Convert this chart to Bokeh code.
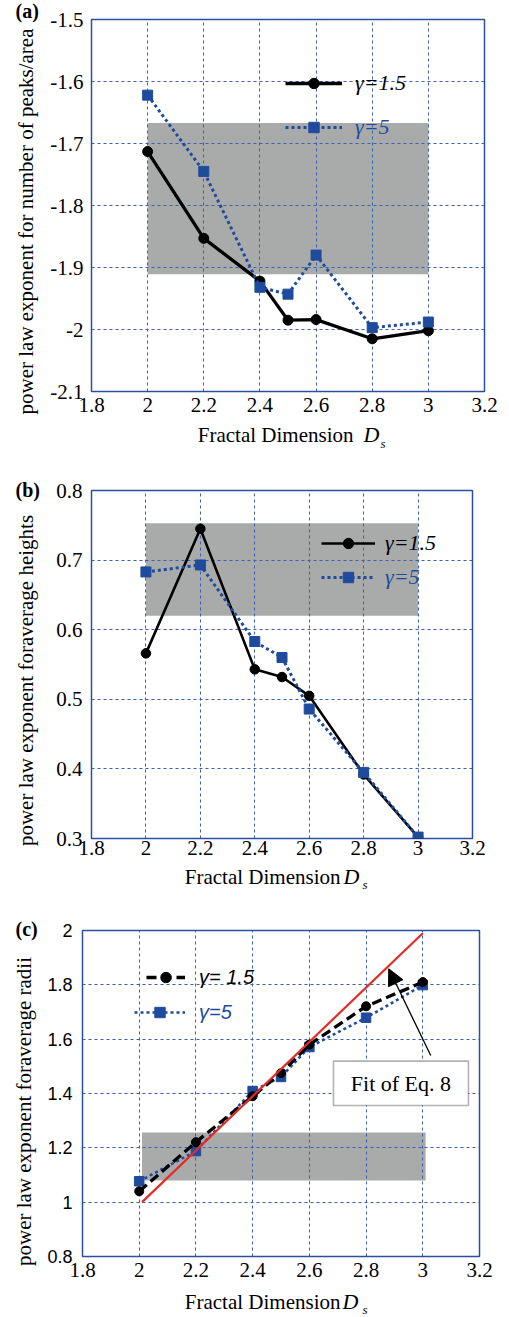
import math
from bokeh.plotting import figure
from bokeh.layouts import column, row
from bokeh.models import (CustomJSTickFormatter, Label, Legend, LegendItem,
                          BoxAnnotation, Arrow, NormalHead, Range1d)
from bokeh.embed import file_html
from bokeh.resources import INLINE

# ---------------- data ----------------
ds = [2.0, 2.2, 2.4, 2.5, 2.6, 2.8, 3.0]

a_g15 = [-1.713, -1.853, -1.922, -1.985, -1.984, -2.015, -2.002]
a_g5 = [-1.622, -1.745, -1.932, -1.943, -1.880, -1.997, -1.988]

b_g15 = [0.566, 0.745, 0.543, 0.532, 0.505, 0.392, 0.302]
b_g5 = [0.683, 0.693, 0.583, 0.560, 0.486, 0.395, 0.302]

c_g15 = [1.040, 1.221, 1.390, 1.475, 1.580, 1.721, 1.810]
c_g5 = [1.077, 1.188, 1.409, 1.461, 1.571, 1.679, 1.799]

fit_x = [2.01, 3.0]
fit_y = [1.0, 1.99]

band_a_x = [2.0, 3.0]
band_a_y = [-1.911, -1.667]
band_b_x = [2.0, 3.0]
band_b_y = [0.620, 0.753]
band_c_x = [2.01, 3.01]
band_c_y = [1.080, 1.256]

x_ticks = [1.8, 2.0, 2.2, 2.4, 2.6, 2.8, 3.0, 3.2]
a_yticks = [-2.1, -2.0, -1.9, -1.8, -1.7, -1.6, -1.5]
b_yticks = [0.3, 0.4, 0.5, 0.6, 0.7, 0.8]
c_yticks = [0.8, 1.0, 1.2, 1.4, 1.6, 1.8, 2.0]

label_g15_serif = "γ=1.5"
label_g15_sans = "γ= 1.5"
label_g5 = "γ=5"

ylab_a = "power law exponent for number of peaks/area"
ylab_b = "power law exponent foraverage heights"
ylab_c = "power law exponent foraverage radii"
xlab = "Fractal Dimension"

# ---------------- style ----------------
SERIF = "Liberation Serif"
SANS = "Liberation Sans"
BLUE = "#1f4b9d"
GRID = "#3a5fae"
FRAME = "#2b4e9e"
BAND = "#a9abaa"
RED = "#e52b25"
PAGE_W = 509
SIDE_W = 44
MAIN_W = PAGE_W - SIDE_W

fmt = CustomJSTickFormatter(code="return (Math.round(tick*10)/10).toString();")


def no_align(f):
    try:
        f.frame_align = False
    except Exception:
        pass


def main_fig(height, left, right, top, bottom, yr, yticks, ytick_font, ytick_size,
             ystand, xstand):
    p = figure(width=MAIN_W, height=height, x_range=Range1d(1.8, 3.2), y_range=Range1d(*yr),
               title=None, toolbar_location=None, output_backend="svg",
               min_border_left=left, min_border_right=right,
               min_border_top=top, min_border_bottom=bottom)
    no_align(p)
    p.background_fill_color = "white"
    p.border_fill_color = "white"
    p.outline_line_color = FRAME
    p.outline_line_width = 1.5
    p.xaxis.ticker = x_ticks
    p.yaxis.ticker = yticks
    p.xaxis.formatter = fmt
    p.yaxis.formatter = fmt
    for ax in (p.xaxis, p.yaxis):
        ax.axis_line_color = None
        ax.major_tick_line_color = None
        ax.minor_tick_line_color = None
        ax.major_tick_in = 0
        ax.major_tick_out = 0
        ax.major_label_text_color = "black"
    p.xaxis.major_label_text_font = SERIF
    p.xaxis.major_label_text_font_size = "21px"
    p.xaxis.major_label_standoff = xstand
    p.yaxis.major_label_text_font = ytick_font
    p.yaxis.major_label_text_font_size = ytick_size
    p.yaxis.major_label_standoff = ystand
    p.grid.grid_line_color = GRID
    p.grid.grid_line_dash = "3 3"
    p.grid.grid_line_width = 1
    return p


def text_fig(w, h):
    f = figure(width=w, height=h, x_range=Range1d(0, w), y_range=Range1d(h, 0),
               title=None, toolbar_location=None, output_backend="svg",
               x_axis_location=None, y_axis_location=None, min_border=0)
    no_align(f)
    f.outline_line_color = None
    f.background_fill_color = "white"
    f.border_fill_color = "white"
    f.grid.visible = False
    return f


def add_legend(p, label, renderers, x, y, gw, standoff, color, font, size):
    leg = Legend(items=[LegendItem(label=label, renderers=renderers)],
                 location=(x, y), glyph_width=gw, glyph_height=26, label_height=26,
                 label_standoff=standoff, padding=0, margin=0, spacing=0,
                 border_line_color=None, background_fill_alpha=0,
                 label_text_font=font, label_text_font_style="italic",
                 label_text_font_size=size, label_text_color=color)
    p.add_layout(leg)


def side_fig(h, ytitle, ycx, ycy, letter, lx, ly):
    f = text_fig(SIDE_W, h)
    f.add_layout(Label(x=ycx, y=ycy, text=ytitle, angle=math.pi / 2,
                       text_align="center", text_baseline="middle",
                       text_font=SERIF, text_font_size="21px", text_color="black"))
    f.add_layout(Label(x=lx, y=ly, text=letter, text_align="left",
                       text_baseline="middle", text_font=SERIF,
                       text_font_style="bold", text_font_size="20px", text_color="black"))
    return f


def title_fig(h, xr, mid, dx, sx, smid):
    f = text_fig(PAGE_W, h)
    f.add_layout(Label(x=xr, y=mid, text=xlab, text_align="right",
                       text_baseline="middle", text_font=SERIF,
                       text_font_size="21px", text_color="black"))
    f.add_layout(Label(x=dx, y=mid, text="D", text_align="left",
                       text_baseline="middle", text_font=SERIF,
                       text_font_style="italic", text_font_size="22px", text_color="black"))
    f.add_layout(Label(x=sx, y=smid, text="s", text_align="left",
                       text_baseline="middle", text_font=SERIF,
                       text_font_style="italic", text_font_size="13px", text_color="black"))
    return f


# ---------------- panel (a) ----------------
HA, FA = 422, 372
pa = main_fig(HA, 47, 25, 19, HA - 19 - FA, (-2.1, -1.5), a_yticks, SERIF, "21px", 8, 6)
pa.quad(left=band_a_x[0], right=band_a_x[1], bottom=band_a_y[0], top=band_a_y[1],
        fill_color=BAND, line_color=None, level="image")
la1 = pa.line(ds, a_g15, line_color="black", line_width=3.3)
sa1 = pa.scatter(ds, a_g15, marker="circle", size=10, color="black")
la2 = pa.line(ds, a_g5, line_color=BLUE, line_width=3, line_dash="3 3")
sa2 = pa.scatter(ds, a_g5, marker="square", size=10, color=BLUE)
add_legend(pa, label_g15_serif, [la1, sa1], 194, FA - 64 - 13, 57, 13, "black", SERIF, "22px")
add_legend(pa, label_g5, [la2, sa2], 194, FA - 108 - 13, 57, 13, BLUE, SERIF, "22px")
sa = side_fig(HA, ylab_a, 25, 221, "(a)", 15, 10)
ta = title_fig(33, 353, 12, 363, 380, 21)

# ---------------- panel (b) ----------------
HB, FB = 409, 348
pb = main_fig(HB, 47, 37, 35, HB - 35 - FB, (0.3, 0.8), b_yticks, SERIF, "21px", 9, 2)
pb.quad(left=band_b_x[0], right=band_b_x[1], bottom=band_b_y[0], top=band_b_y[1],
        fill_color=BAND, line_color=None, level="image")
lb1 = pb.line(ds, b_g15, line_color="black", line_width=2.6)
sb1 = pb.scatter(ds, b_g15, marker="circle", size=9.5, color="black")
lb2 = pb.line(ds, b_g5, line_color=BLUE, line_width=3, line_dash="3 3")
sb2 = pb.scatter(ds, b_g5, marker="square", size=10, color=BLUE)
add_legend(pb, label_g15_serif, [lb1, sb1], 230, FB - 53 - 13, 54, 10, "black", SERIF, "22px")
add_legend(pb, label_g5, [lb2, sb2], 230, FB - 87 - 13, 54, 10, BLUE, SERIF, "22px")
sb = side_fig(HB, ylab_b, 25, 225, "(b)", 15, 34)
tb = title_fig(31, 340, 12, 343, 362, 20)

# ---------------- panel (c) ----------------
HC, FC = 391, 326
pc = main_fig(HC, 36, 30, 35, HC - 35 - FC, (0.8, 2.0), c_yticks, SANS, "18px", 10, 6)
pc.quad(left=band_c_x[0], right=band_c_x[1], bottom=band_c_y[0], top=band_c_y[1],
        fill_color=BAND, line_color=None, level="image")
lc2 = pc.line(ds, c_g5, line_color=BLUE, line_width=2.6, line_dash="3 3")
sc2 = pc.scatter(ds, c_g5, marker="square", size=9.5, color=BLUE)
lc1 = pc.line(ds, c_g15, line_color="black", line_width=3.3, line_dash="10 5")
sc1 = pc.scatter(ds, c_g15, marker="circle", size=9, color="black")
pc.line(fit_x, fit_y, line_color=RED, line_width=2.2)
add_legend(pc, label_g15_sans, [lc1, sc1], 64, FC - 47 - 13, 39, 14, "black", SANS, "20px")
add_legend(pc, label_g5, [lc2, sc2], 52, FC - 82 - 13, 51, 14, BLUE, SANS, "20px")
pc.add_layout(BoxAnnotation(left=2.685, right=3.161, bottom=1.356, top=1.519,
                            fill_color="white", fill_alpha=1.0,
                            line_color="black", line_width=1.6))
pc.add_layout(Label(x=2.923, y=1.437, text="Fit of Eq. 8", text_align="center",
                    text_baseline="middle", text_font=SERIF, text_font_size="22px",
                    text_color="black"))
pc.add_layout(Arrow(end=NormalHead(size=16, fill_color="black", line_color="black"),
                    x_start=3.028, y_start=1.54, x_end=2.88, y_end=1.859,
                    line_color="black", line_width=1.3))
sc = side_fig(HC, ylab_c, 23, 216, "(c)", 15, 33)
tc = title_fig(31, 340, 15, 342, 362, 23)

layout = column(row(sa, pa, spacing=0), ta,
                row(sb, pb, spacing=0), tb,
                row(sc, pc, spacing=0), tc, spacing=0)
open("out.html", "w").write(file_html(layout, INLINE))
